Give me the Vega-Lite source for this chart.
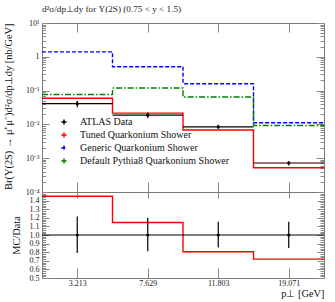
{
  "$schema": "https://vega.github.io/schema/vega-lite/v6.json",
  "padding": {"left": 2, "top": 4, "right": 11, "bottom": 3},
  "spacing": 0,
  "bounds": "flush",
  "config": {
    "font": "Liberation Serif",
    "view": {"stroke": "#777", "strokeWidth": 1},
    "axis": {"grid": false, "domain": false, "tickColor": "#888", "tickWidth": 1,
      "labelFont": "Liberation Serif", "labelFontSize": 8, "labelColor": "#222",
      "titleFont": "Liberation Serif", "titleFontSize": 10.4, "titleFontWeight": "normal", "titleColor": "#111"}
  },
  "datasets": {
    "mc": [
      {"series": "Tuned Quarkonium Shower", "x": 0, "v": 0.0595},
      {"series": "Tuned Quarkonium Shower", "x": 1, "v": 0.0215},
      {"series": "Tuned Quarkonium Shower", "x": 2, "v": 0.00684},
      {"series": "Tuned Quarkonium Shower", "x": 3, "v": 0.00052},
      {"series": "Tuned Quarkonium Shower", "x": 4, "v": 0.00052},
      {"series": "Generic Quarkonium Shower", "x": 0, "v": 1.4},
      {"series": "Generic Quarkonium Shower", "x": 1, "v": 0.51},
      {"series": "Generic Quarkonium Shower", "x": 2, "v": 0.16},
      {"series": "Generic Quarkonium Shower", "x": 3, "v": 0.0112},
      {"series": "Generic Quarkonium Shower", "x": 4, "v": 0.0112},
      {"series": "Default Pythia8 Quarkonium Shower", "x": 0, "v": 0.077},
      {"series": "Default Pythia8 Quarkonium Shower", "x": 1, "v": 0.119},
      {"series": "Default Pythia8 Quarkonium Shower", "x": 2, "v": 0.0645},
      {"series": "Default Pythia8 Quarkonium Shower", "x": 3, "v": 0.0093},
      {"series": "Default Pythia8 Quarkonium Shower", "x": 4, "v": 0.0093}
    ],
    "obs": [
      {"lo": 0, "hi": 1, "c": 0.5, "v": 0.041, "vlo": 0.032, "vhi": 0.0498, "r": 1, "rlo": 0.79, "rhi": 1.215},
      {"lo": 1, "hi": 2, "c": 1.5, "v": 0.0188, "vlo": 0.0152, "vhi": 0.0225, "r": 1, "rlo": 0.81, "rhi": 1.2},
      {"lo": 2, "hi": 3, "c": 2.5, "v": 0.0085, "vlo": 0.0073, "vhi": 0.0098, "r": 1, "rlo": 0.855, "rhi": 1.155},
      {"lo": 3, "hi": 4, "c": 3.5, "v": 0.00072, "vlo": 0.00061, "vhi": 0.00083, "r": 1, "rlo": 0.85, "rhi": 1.155}
    ],
    "ratio": [
      {"x": 0, "r": 1.45},
      {"x": 1, "r": 1.145},
      {"x": 2, "r": 0.805},
      {"x": 3, "r": 0.72},
      {"x": 4, "r": 0.72}
    ]
  },
  "vconcat": [
    {
      "width": 282,
      "height": 169,
      "title": {"text": "d²σ/dp⊥dy for Υ(2S) (0.75 < y < 1.5)", "anchor": "start", "frame": "group", "fontSize": 9.2, "font": "Liberation Serif", "fontWeight": "normal", "color": "#222", "offset": 5},
      "layer": [
        {
          "data": {"name": "mc"},
          "mark": {"type": "line", "interpolate": "step-after", "strokeWidth": 1.4},
          "encoding": {
            "x": {"field": "x", "type": "quantitative", "scale": {"domain": [0, 4], "nice": false, "zero": false},
              "axis": {"orient": "bottom", "values": [0.5, 1.5, 2.5, 3.5], "labels": false, "tickSize": -10, "title": null}},
            "y": {"field": "v", "type": "quantitative", "scale": {"type": "log", "domain": [0.0001, 10], "nice": false},
              "axis": {"orient": "left", "values": [0.0001, 0.001, 0.01, 0.1, 1, 10], "tickSize": -7, "labelPadding": 10,
                "labelExpr": "datum.value >= 9 ? '10¹' : datum.value >= 0.9 ? '1' : datum.value >= 0.09 ? '10⁻¹' : datum.value >= 0.009 ? '10⁻²' : datum.value >= 0.0009 ? '10⁻³' : '10⁻⁴'",
                "title": "Br(Υ(2S) → μ⁺μ⁻)d²σ/dp⊥dy [nb/GeV]", "titleAnchor": "end", "titlePadding": 12}},
            "color": {"field": "series", "type": "nominal",
              "scale": {"domain": ["ATLAS Data", "Tuned Quarkonium Shower", "Generic Quarkonium Shower", "Default Pythia8 Quarkonium Shower"], "range": ["#000000", "#ff0000", "#0000ff", "#008000"]},
              "legend": {"orient": "none", "legendX": 16, "legendY": 93, "title": null, "symbolType": "M-0.5,0H0.5M0,-0.5V0.5", "symbolSize": 110, "symbolStrokeWidth": 1.5, "symbolFillColor": "transparent", "labelFont": "Liberation Serif", "labelFontSize": 10, "labelColor": "#111", "labelOffset": 10, "rowPadding": 1}},
            "strokeDash": {"field": "series", "type": "nominal",
              "scale": {"domain": ["ATLAS Data", "Tuned Quarkonium Shower", "Generic Quarkonium Shower", "Default Pythia8 Quarkonium Shower"], "range": [[1, 0], [1, 0], [4, 2], [6, 2, 1.5, 2]]},
              "legend": null}
          }
        },
        {
          "data": {"name": "obs"},
          "mark": {"type": "rule", "color": "black", "strokeWidth": 1.2},
          "encoding": {
            "x": {"field": "lo", "type": "quantitative", "axis": {"orient": "top", "values": [0.5, 1.5, 2.5, 3.5], "labels": false, "tickSize": -9, "title": null}},
            "x2": {"field": "hi"},
            "y": {"field": "v", "type": "quantitative", "axis": {"orient": "right", "values": [0.0001, 0.001, 0.01, 0.1, 1, 10], "labels": false, "tickSize": -8, "title": null}}
          }
        },
        {
          "data": {"name": "obs"},
          "mark": {"type": "rule", "color": "black", "strokeWidth": 1.2},
          "encoding": {
            "x": {"field": "c", "type": "quantitative", "axis": null},
            "y": {"field": "vlo", "type": "quantitative", "axis": {"orient": "left", "values": [0.0002, 0.0003, 0.0004, 0.0005, 0.0006, 0.0007, 0.0008, 0.0009, 0.002, 0.003, 0.004, 0.005, 0.006, 0.007, 0.008, 0.009, 0.02, 0.03, 0.04, 0.05, 0.06, 0.07, 0.08, 0.09, 0.2, 0.3, 0.4, 0.5, 0.6, 0.7, 0.8, 0.9, 2, 3, 4, 5, 6, 7, 8, 9], "labels": false, "tickSize": -3.5, "title": null}},
            "y2": {"field": "vhi"}
          }
        },
        {
          "data": {"name": "obs"},
          "mark": {"type": "point", "filled": true, "color": "black", "size": 10, "opacity": 1},
          "encoding": {
            "x": {"field": "c", "type": "quantitative", "axis": null},
            "y": {"field": "v", "type": "quantitative", "axis": {"orient": "right", "values": [0.0002, 0.0003, 0.0004, 0.0005, 0.0006, 0.0007, 0.0008, 0.0009, 0.002, 0.003, 0.004, 0.005, 0.006, 0.007, 0.008, 0.009, 0.02, 0.03, 0.04, 0.05, 0.06, 0.07, 0.08, 0.09, 0.2, 0.3, 0.4, 0.5, 0.6, 0.7, 0.8, 0.9, 2, 3, 4, 5, 6, 7, 8, 9], "labels": false, "tickSize": -4, "title": null}}
          }
        }
      ],
      "resolve": {"axis": {"x": "independent", "y": "independent"}}
    },
    {
      "width": 282,
      "height": 86,
      "layer": [
        {
          "data": {"name": "ratio"},
          "mark": {"type": "line", "interpolate": "step-after", "strokeWidth": 1.4, "color": "#ff0000"},
          "encoding": {
            "x": {"field": "x", "type": "quantitative", "scale": {"domain": [0, 4], "nice": false, "zero": false},
              "axis": {"orient": "bottom", "values": [0.5, 1.5, 2.5, 3.5], "tickSize": -10, "labelPadding": 11,
                "labelExpr": "datum.value < 1 ? '3.213' : datum.value < 2 ? '7.629' : datum.value < 3 ? '11.803' : '19.071'",
                "title": "p⊥ [GeV]", "titleAnchor": "end", "titlePadding": 1}},
            "y": {"field": "r", "type": "quantitative", "scale": {"domain": [0.5, 1.5], "nice": false, "zero": false},
              "axis": {"orient": "left", "values": [0.5, 0.6, 0.7, 0.8, 0.9, 1.0, 1.1, 1.2, 1.3, 1.4, 1.5], "tickSize": -7, "labelPadding": 10,
                "labelExpr": "datum.value > 1.45 ? '' : format(datum.value, '.1f')",
                "title": "MC/Data", "titlePadding": 8}}
          }
        },
        {
          "data": {"name": "obs"},
          "mark": {"type": "rule", "color": "black", "strokeWidth": 1.2},
          "encoding": {
            "x": {"field": "lo", "type": "quantitative", "axis": {"orient": "top", "values": [0.5, 1.5, 2.5, 3.5], "labels": false, "tickSize": -6, "title": null}},
            "x2": {"field": "hi"},
            "y": {"field": "r", "type": "quantitative", "axis": {"orient": "right", "values": [0.5, 0.6, 0.7, 0.8, 0.9, 1.0, 1.1, 1.2, 1.3, 1.4, 1.5], "labels": false, "tickSize": -7, "title": null}}
          }
        },
        {
          "data": {"name": "obs"},
          "mark": {"type": "rule", "color": "black", "strokeWidth": 1.2},
          "encoding": {
            "x": {"field": "c", "type": "quantitative", "axis": null},
            "y": {"field": "rlo", "type": "quantitative", "axis": {"orient": "left", "values": [0.52, 0.54, 0.56, 0.58, 0.62, 0.64, 0.66, 0.68, 0.72, 0.74, 0.76, 0.78, 0.82, 0.84, 0.86, 0.88, 0.92, 0.94, 0.96, 0.98, 1.02, 1.04, 1.06, 1.08, 1.12, 1.14, 1.16, 1.18, 1.22, 1.24, 1.26, 1.28, 1.32, 1.34, 1.36, 1.38, 1.42, 1.44, 1.46, 1.48], "labels": false, "tickSize": -3.5, "title": null}},
            "y2": {"field": "rhi"}
          }
        },
        {
          "data": {"name": "obs"},
          "mark": {"type": "point", "filled": true, "color": "black", "size": 10, "opacity": 1},
          "encoding": {
            "x": {"field": "c", "type": "quantitative", "axis": null},
            "y": {"field": "r", "type": "quantitative", "axis": {"orient": "right", "values": [0.52, 0.54, 0.56, 0.58, 0.62, 0.64, 0.66, 0.68, 0.72, 0.74, 0.76, 0.78, 0.82, 0.84, 0.86, 0.88, 0.92, 0.94, 0.96, 0.98, 1.02, 1.04, 1.06, 1.08, 1.12, 1.14, 1.16, 1.18, 1.22, 1.24, 1.26, 1.28, 1.32, 1.34, 1.36, 1.38, 1.42, 1.44, 1.46, 1.48], "labels": false, "tickSize": -4, "title": null}}
          }
        }
      ],
      "resolve": {"axis": {"x": "independent", "y": "independent"}}
    }
  ]
}
